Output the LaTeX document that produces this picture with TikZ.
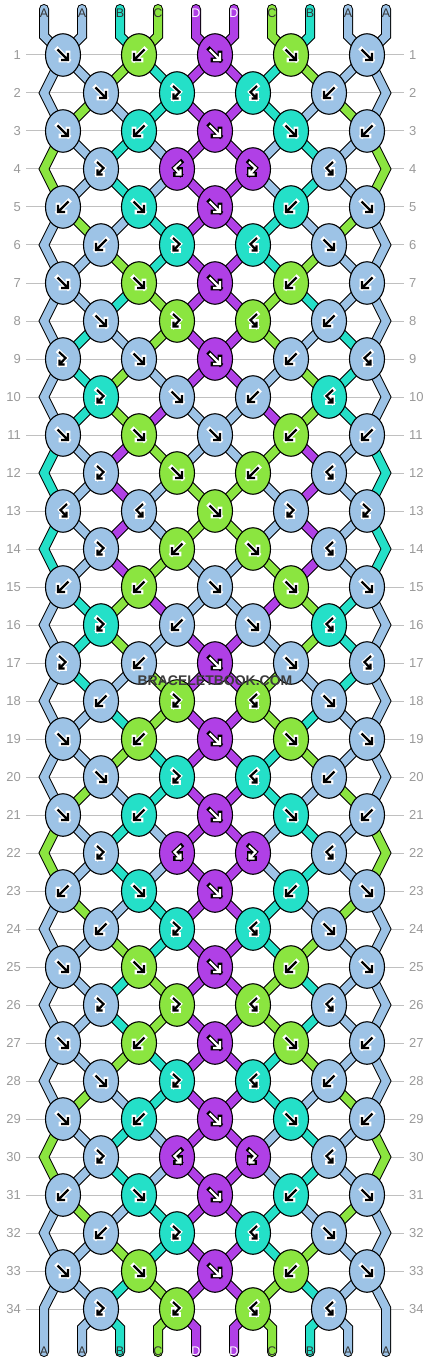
\documentclass[tikz,border=0pt]{standalone}
\usepackage{fontspec}
\setmainfont{Liberation Sans}
\usetikzlibrary{shapes.geometric}

\definecolor{cA}{HTML}{9DC3E6}
\definecolor{cB}{HTML}{24E0C8}
\definecolor{cC}{HTML}{8BE540}
\definecolor{cD}{HTML}{B040E6}
\definecolor{gridgrey}{HTML}{C0C0C0}
\definecolor{labgrey}{HTML}{999999}
\definecolor{markgrey}{HTML}{3C3C3C}

\tikzset{
  knot/.style={ellipse, draw=black, line width=1.1bp, minimum width=35bp, minimum height=42.5bp, inner sep=0pt},
  strandrim/.style={line width=10bp, draw=black, line cap=round},
  strandcore/.style={line width=8bp, line cap=round},
  arrowhalo/.style={line width=4.6bp, line cap=rect, line join=miter},
  arrowbody/.style={line width=2.2bp, line cap=butt, line join=miter},
  gridline/.style={draw=gridgrey, line width=1bp},
  rownum/.style={font=\fontsize{13bp}{13bp}\selectfont, text=labgrey, inner sep=0pt},
  endlabel/.style={font=\fontsize{12.5bp}{12.5bp}\selectfont, inner sep=0pt},
}

% one string piece: black rim, colour on top
\newcommand\strand[2]{%
  \edef\strandcol{c#1}%
  \draw[strandrim] #2;
  \draw[strandcore, draw=\strandcol] #2;}

% knot symbol: type, knot name, knot colour
\newcommand\knotarrow[3]{%
  \if#3D\def\halocol{black}\def\bodycol{white}\else\def\halocol{white}\def\bodycol{black}\fi
  \if#1f\def\arrowpath{(-5.5,-5.5) -- (5,5) (5,-2) -- (5,5) -- (-2,5)}\fi
  \if#1b\def\arrowpath{(5.5,-5.5) -- (-5,5) (-5,-2) -- (-5,5) -- (2,5)}\fi
  \if#1r\def\arrowpath{(-4,-7) -- (2.5,-1) -- (-3.5,5.5) (-3.5,0.5) -- (-3.5,5.5) -- (1.5,5.5)}\fi
  \if#1l\def\arrowpath{(4,-7) -- (-2.5,-1) -- (3.5,5.5) (3.5,0.5) -- (3.5,5.5) -- (-1.5,5.5)}\fi
  \begin{scope}[shift={(#2)}]
    \draw[arrowhalo, draw=\halocol] \arrowpath;
    \draw[arrowbody, draw=\bodycol] \arrowpath;
  \end{scope}}

% knot rows: f forward, b backward, r forward-backward, l backward-forward
\def\knotrows{%
  {f,b,f,f,f},{f,r,l,b},{f,b,f,f,b},{r,l,r,l},{b,f,f,b,f},{b,r,l,f},%
  {f,f,f,b,b},{f,r,l,b},{r,f,f,b,l},{r,f,b,l},{f,f,f,b,b},{r,f,b,l},%
  {l,l,f,r,r},{r,b,f,l},{b,b,f,f,f},{r,b,f,l},{r,b,f,f,l},{b,r,l,f},%
  {f,b,f,f,f},{f,r,l,b},{f,b,f,f,b},{r,l,r,l},{b,f,f,b,f},{b,r,l,f},%
  {f,f,f,b,f},{r,r,l,l},{f,b,f,f,b},{f,r,l,b},{f,b,f,f,b},{r,l,r,l},%
  {b,f,f,b,f},{b,r,l,f},{f,f,f,b,f},{r,r,l,l}}

\begin{document}
\begin{tikzpicture}[x=1bp, y=-1bp]
    \useasboundingbox (0,0) rectangle (430,1364);

    % row numbers and guide lines
    \foreach \r in {1,...,34} {
        \pgfmathsetmacro\y{55+38*(\r-1)}
        \draw[gridline] (26,\y) -- (404,\y);
        \node[rownum, anchor=east] (nl\r) at (21,\y) {\r};
        \node[rownum, anchor=west] (nr\r) at (409,\y) {\r};
    }

    % string ends and starting colours
    \foreach \c [count=\i from 0] in {A,A,B,C,D,D,C,B,A,A} {
        \expandafter\xdef\csname s\i\endcsname{\c}
        \coordinate (t\i) at (44+38*\i, 9);
        \coordinate (e\i) at (44+38*\i, 1352);
    }

    % strings, row by row
    \foreach \kts [count=\r] in \knotrows {
        \pgfmathtruncatemacro\off{1-mod(\r,2)}
        \pgfmathtruncatemacro\offp{1-\off}
        \pgfmathtruncatemacro\rp{\r-1}
        \pgfmathtruncatemacro\rr{\r-2}
        \pgfmathsetmacro\y{55+38*(\r-1)}
        \pgfmathsetmacro\ym{\y-38}
        \foreach \kt [count=\k] in \kts {
            \pgfmathtruncatemacro\p{2*(\k-1)+\off}
            \pgfmathtruncatemacro\q{\p+1}
            \pgfmathsetmacro\x{63+38*\p}
            \edef\lcol{\csname s\p\endcsname}
            \edef\rcol{\csname s\q\endcsname}
            \if\kt f\edef\knc{\lcol}\edef\outl{\rcol}\edef\outr{\lcol}\fi
            \if\kt b\edef\knc{\rcol}\edef\outl{\rcol}\edef\outr{\lcol}\fi
            \if\kt r\edef\knc{\lcol}\edef\outl{\lcol}\edef\outr{\rcol}\fi
            \if\kt l\edef\knc{\rcol}\edef\outl{\lcol}\edef\outr{\rcol}\fi
            \expandafter\xdef\csname kc\r-\k\endcsname{\knc}
            \coordinate (k\r-\k) at (\x,\y);
            \ifnum\r=1
                \strand{\lcol}{(t\p) -- ++(0,27) -- (k\r-\k)}
                \strand{\rcol}{(t\q) -- ++(0,27) -- (k\r-\k)}
            \else
                \ifnum\p=0
                    \strand{\lcol}{(k\rr-1) -- (44,\ym) -- (k\r-\k)}
                \else
                    \pgfmathtruncatemacro\kl{(\p-1-\offp)/2+1}
                    \strand{\lcol}{(k\rp-\kl) -- (k\r-\k)}
                \fi
                \ifnum\q=9
                    \strand{\rcol}{(k\rr-5) -- (386,\ym) -- (k\r-\k)}
                \else
                    \pgfmathtruncatemacro\kr{(\q-\offp)/2+1}
                    \strand{\rcol}{(k\rp-\kr) -- (k\r-\k)}
                \fi
            \fi
            \expandafter\xdef\csname s\p\endcsname{\outl}
            \expandafter\xdef\csname s\q\endcsname{\outr}
        }
    }

    % strings going out at the bottom
    \foreach \k in {1,...,4} {
        \pgfmathtruncatemacro\p{2*\k-1}
        \pgfmathtruncatemacro\q{\p+1}
        \edef\lcol{\csname s\p\endcsname}
        \edef\rcol{\csname s\q\endcsname}
        \strand{\lcol}{(k34-\k) -- ++(-19,19) -- (e\p)}
        \strand{\rcol}{(k34-\k) -- ++(19,19) -- (e\q)}
    }
    \edef\lcol{\csname s0\endcsname}
    \strand{\lcol}{(k33-1) -- (44,1308) -- (e0)}
    \edef\rcol{\csname s9\endcsname}
    \strand{\rcol}{(k33-5) -- (386,1308) -- (e9)}

    % knots on top
    \foreach \kts [count=\r] in \knotrows {
        \foreach \kt [count=\k] in \kts {
            \edef\knc{\csname kc\r-\k\endcsname}
            \node[knot, fill=c\knc] (knot\r-\k) at (k\r-\k) {};
            \knotarrow{\kt}{knot\r-\k.center}{\knc}
        }
    }

    % letters at both ends
    \foreach \c [count=\i from 0] in {A,A,B,C,D,D,C,B,A,A} {
        \if\c D\def\labcol{white}\else\def\labcol{black!80}\fi
        \node[endlabel, text=\labcol] (top\i) at (44+38*\i, 13) {\c};
    }
    \foreach \i in {0,...,9} {
        \edef\c{\csname s\i\endcsname}
        \if\c D\def\labcol{white}\else\def\labcol{black!80}\fi
        \node[endlabel, text=\labcol] (bot\i) at (44+38*\i, 1351) {\c};
    }

    \node[font=\bfseries\fontsize{14bp}{14bp}\selectfont, text=markgrey] (mark) at (215,681) {BRACELETBOOK.COM};
\end{tikzpicture}
\end{document}
